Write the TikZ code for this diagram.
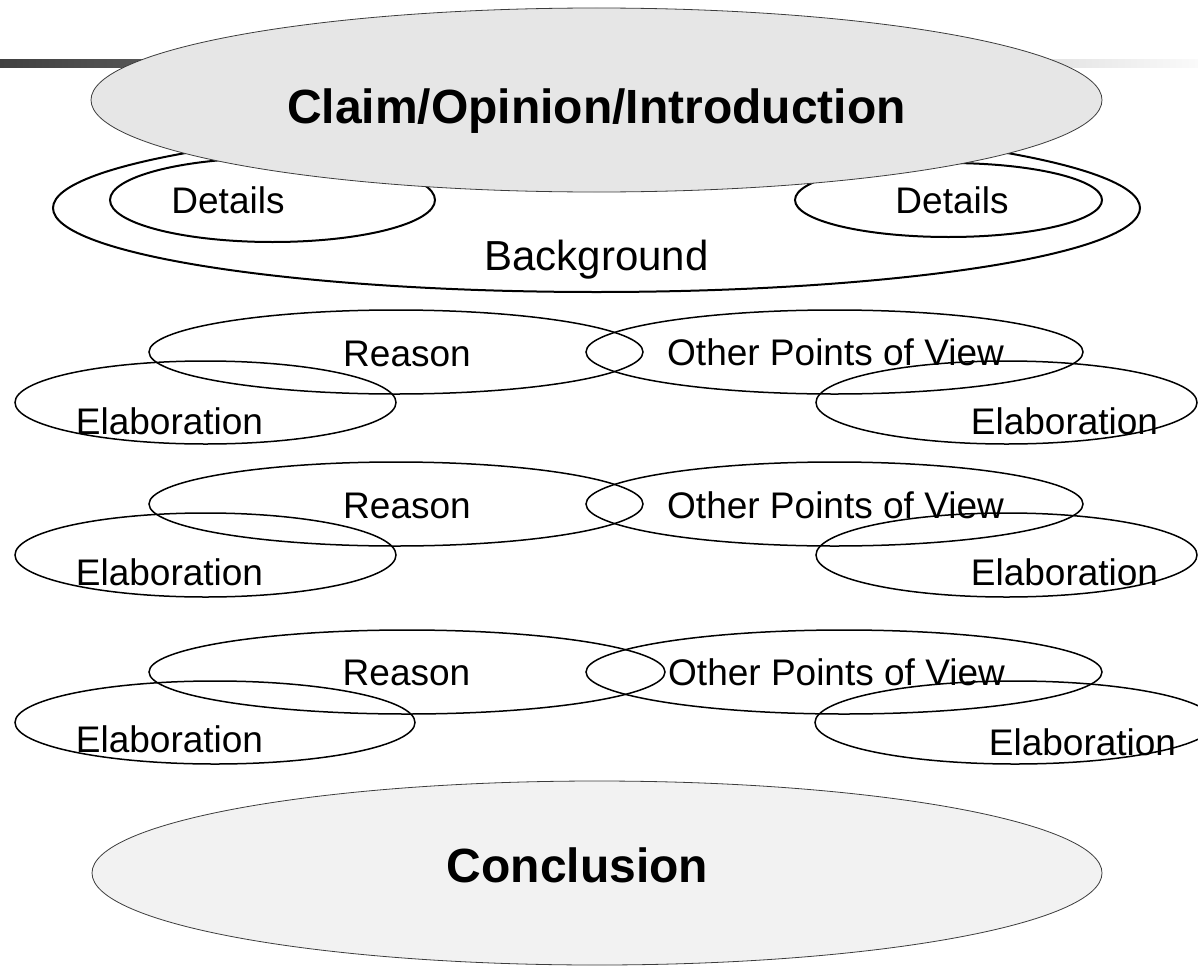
\documentclass[tikz,border=0pt]{standalone}
\usepackage{fontspec}
\setmainfont{Liberation Sans}
\usetikzlibrary{shapes.geometric}
\definecolor{claimfill}{RGB}{230,230,230}
\definecolor{conclfill}{RGB}{242,242,242}
\definecolor{rimgray}{RGB}{60,60,60}
\definecolor{barleft}{RGB}{64,64,64}
\definecolor{barright}{RGB}{250,250,250}
\begin{document}
\begin{tikzpicture}[x=1pt,y=-1pt,
  oval/.style={ellipse, inner sep=0pt, outer sep=0pt, draw=black},
  thickoval/.style={oval, line width=2pt},
  rowoval/.style={oval, line width=1.5pt},
  bigoval/.style={oval, draw=rimgray, line width=0.8pt},
  lbl/.style={inner sep=0pt, anchor=base, font=\fontsize{37}{44}\selectfont},
  biglbl/.style={inner sep=0pt, anchor=base, font=\fontsize{42}{50}\selectfont},
  headlbl/.style={inner sep=0pt, anchor=base, font=\fontsize{48}{56}\selectfont\bfseries}]
\useasboundingbox (0,0) rectangle (1198,966);
\fill[white] (0,0) rectangle (1198,966);

% title bar behind the heading
\shade[left color=barleft, right color=barright] (0,60) rectangle (1198,67.5);

% background with its two details
\node[thickoval, minimum width=1087pt, minimum height=168pt] (bg) at (596.5,208) {};
\node[thickoval, minimum width=325pt, minimum height=84pt] (detL) at (272.5,200) {};
\node[thickoval, minimum width=307pt, minimum height=74pt] (detR) at (948.5,200) {};

% heading
\node[bigoval, fill=claimfill, minimum width=1011pt, minimum height=184pt] (claim) at (596.5,100) {};
\node[headlbl] (claimT) at (596.5,123) {Claim/Opinion/Introduction};
\node[lbl] (detLT) at (228,213) {Details};
\node[lbl] (detRT) at (952,213) {Details};
\node[biglbl] (bgT) at (596.5,270) {Background};

% row 1
\node[rowoval, minimum width=494pt, minimum height=84pt] (reasonA) at (396,352) {};
\node[rowoval, minimum width=381pt, minimum height=83pt] (elabLA) at (205.5,402.5) {};
\node[rowoval, minimum width=497pt, minimum height=84pt] (viewA) at (834.5,352) {};
\node[rowoval, minimum width=381pt, minimum height=83pt] (elabRA) at (1006.5,402.5) {};
\node[lbl] (reasonAT) at (407,366) {Reason};
\node[lbl] (elabLAT) at (169.5,434) {Elaboration};
\node[lbl] (viewAT) at (835.5,365) {Other Points of View};
\node[lbl] (elabRAT) at (1064.5,434) {Elaboration};

% row 2
\node[rowoval, minimum width=494pt, minimum height=84pt] (reasonB) at (396,504) {};
\node[rowoval, minimum width=381pt, minimum height=84pt] (elabLB) at (205.5,555) {};
\node[rowoval, minimum width=497pt, minimum height=84pt] (viewB) at (834.5,504) {};
\node[rowoval, minimum width=381pt, minimum height=84pt] (elabRB) at (1006.5,555) {};
\node[lbl] (reasonBT) at (407,518) {Reason};
\node[lbl] (elabLBT) at (169.5,585) {Elaboration};
\node[lbl] (viewBT) at (835.5,518) {Other Points of View};
\node[lbl] (elabRBT) at (1064.5,585) {Elaboration};

% row 3
\node[rowoval, minimum width=516pt, minimum height=84pt] (reasonC) at (407,672) {};
\node[rowoval, minimum width=400pt, minimum height=83pt] (elabLC) at (215,722.5) {};
\node[rowoval, minimum width=516pt, minimum height=84pt] (viewC) at (844,672) {};
\node[rowoval, minimum width=400pt, minimum height=83pt] (elabRC) at (1015,722.5) {};
\node[lbl] (reasonCT) at (406.5,685) {Reason};
\node[lbl] (elabLCT) at (169.5,752) {Elaboration};
\node[lbl] (viewCT) at (836.5,685) {Other Points of View};
\node[lbl] (elabRCT) at (1082.5,755) {Elaboration};

% closing
\node[bigoval, fill=conclfill, minimum width=1010pt, minimum height=184pt] (concl) at (597,873) {};
\node[headlbl] (conclT) at (577.5,882) {Conclusion};
\end{tikzpicture}
\end{document}
